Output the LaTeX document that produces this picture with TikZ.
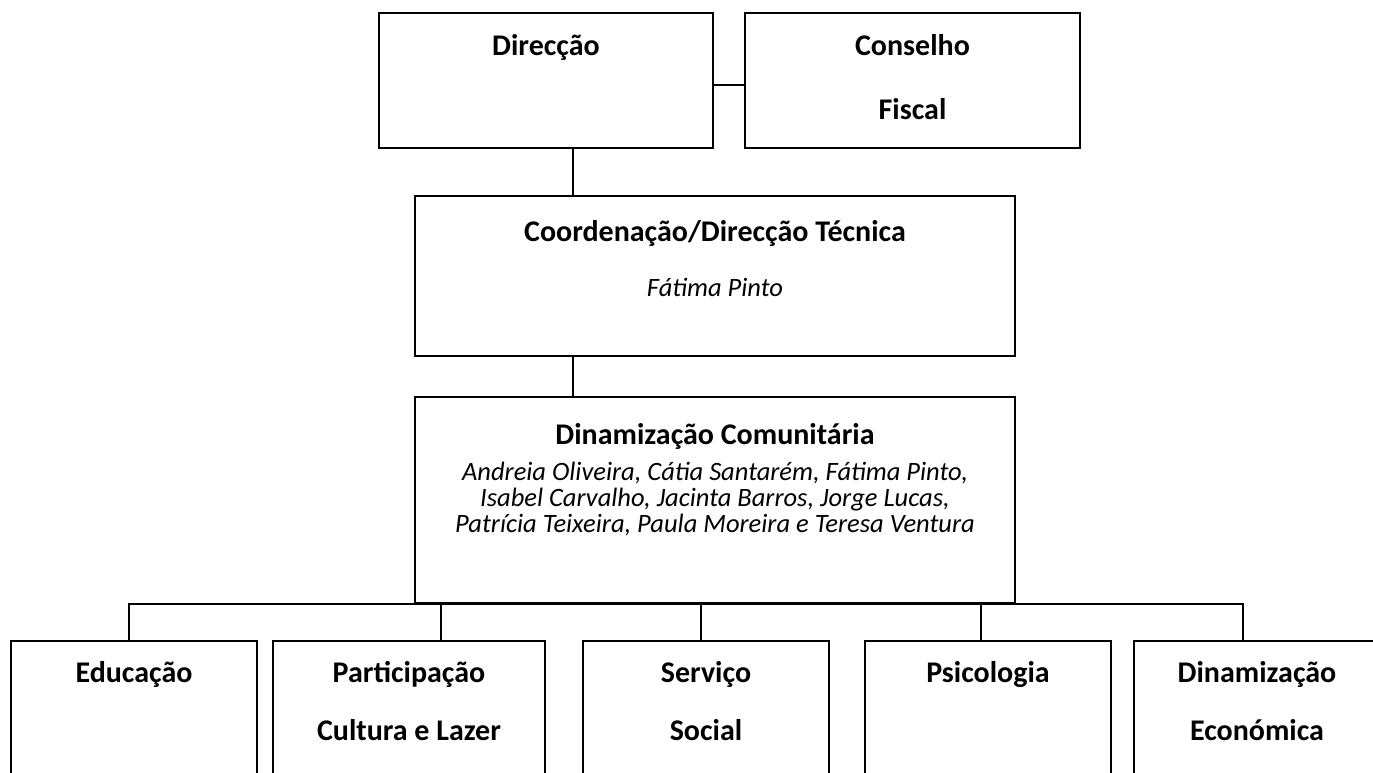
\documentclass[tikz,border=0pt]{standalone}
\usepackage{fontspec}
\setmainfont{Carlito}

\begin{document}
\begin{tikzpicture}[
            x = 1pt,
            y = -1pt,
            line width = 2pt,
            inner sep = 0pt
        ]

        \tikzstyle{box}=[
            draw,
            line width = 2pt,
            inner sep = 0pt
        ]
        \tikzstyle{title}=[
            anchor = base,
            font = \fontsize{30}{34}\selectfont\bfseries
        ]
        \tikzstyle{names}=[
            anchor = base,
            font = \fontsize{26.5}{30}\selectfont\itshape
        ]

        \useasboundingbox (0,0) rectangle (1373,772);
        \clip (0,0) rectangle (1373,772);

        % top row
        \node[box, minimum width = 334pt, minimum height = 135pt] (dir) at (546, 80.5) {};
        \node[box, minimum width = 335pt, minimum height = 135pt] (cons) at (912.5, 80.5) {};
        \node[title] (dirT) at (546, 55) {Direcção};
        \node[title] (consT) at (912.5, 55) {Conselho};
        \node[title] (consB) at (912.5, 119) {Fiscal};

        % middle
        \node[box, minimum width = 600pt, minimum height = 160pt] (coord) at (715, 276) {};
        \node[title] (coordT) at (715, 241) {Coordenação/Direcção Técnica};
        \node[names] (coordN) at (715, 296) {Fátima Pinto};

        \node[box, minimum width = 600pt, minimum height = 206pt] (dina) at (715, 500) {};
        \node[title] (dinaT) at (715, 444) {Dinamização Comunitária};
        \node[names] (dinaA) at (715, 480) {Andreia Oliveira, Cátia Santarém, Fátima Pinto,};
        \node[names] (dinaB) at (715, 506) {Isabel Carvalho, Jacinta Barros, Jorge Lucas,};
        \node[names] (dinaC) at (715, 532) {Patrícia Teixeira, Paula Moreira e Teresa Ventura};

        % bottom row
        \foreach \b/\x/\w in {edu/134/246, part/409/272, serv/706/246, psic/988/246, econ/1257/246}
            \node[box, minimum width = \w pt, minimum height = 160pt] (\b) at (\x, 720.7) {};
        \node[title] (eduT) at (134, 682) {Educação};
        \node[title] (partT) at (409, 682) {Participação};
        \node[title] (partB) at (409, 740) {Cultura e Lazer};
        \node[title] (servT) at (706, 682) {Serviço};
        \node[title] (servB) at (706, 740) {Social};
        \node[title] (psicT) at (988, 682) {Psicologia};
        \node[title] (econT) at (1257, 682) {Dinamização};
        \node[title] (econB) at (1257, 740) {Económica};

        % connectors
        \coordinate (axis) at (573, 0);
        \draw ([yshift=-4pt]dir.east) -- ([yshift=-4pt]cons.west);
        \draw (dir.south -| axis) -- (coord.north -| axis);
        \draw (coord.south -| axis) -- (dina.north -| axis);

        \foreach \b/\x in {edu/129, part/441, serv/701, psic/981, econ/1243}
            \coordinate (\b-top) at (\x, 0);
        \draw (edu.north -| edu-top) |- (dina.south) -| (econ.north -| econ-top);
        \draw (dina.south -| part-top) -- (part.north -| part-top);
        \draw (dina.south -| serv-top) -- (serv.north -| serv-top);
        \draw (dina.south -| psic-top) -- (psic.north -| psic-top);
    \end{tikzpicture}
\end{document}
